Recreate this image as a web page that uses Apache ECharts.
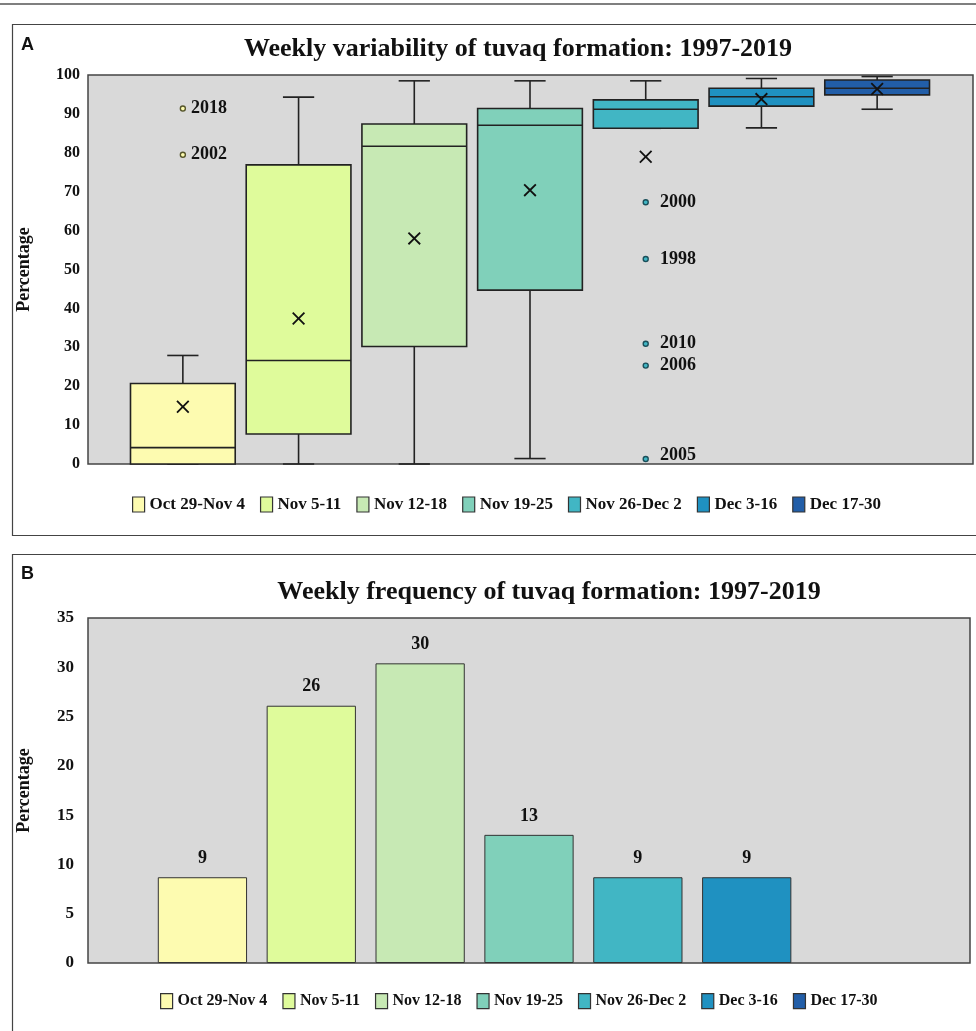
<!DOCTYPE html>
<html><head><meta charset="utf-8">
<script src="https://cdn.jsdelivr.net/npm/echarts@6/dist/echarts.min.js"></script>
<style>html,body{margin:0;padding:0;background:#fff}#c{width:976px;height:1031px}</style>
</head><body><div id="c"></div>
<script>
// ---------- data ----------
const categories = ['Oct 29-Nov 4','Nov 5-11','Nov 12-18','Nov 19-25','Nov 26-Dec 2','Dec 3-16','Dec 17-30'];
const colors = ['#FDFBB0','#DFFB9B','#C7E9B4','#80D0BA','#41B6C4','#1F91C1','#225EA8'];
// Panel A: box statistics (percentage)
const boxMin    = [0,    0,    0,    1.4,  86.3, 86.4, 91.2];
const boxQ1     = [0,    7.7,  30.2, 44.7, 86.3, 92.0, 94.9];
const boxMedian = [4.2,  26.6, 81.7, 87.1, 91.2, 94.4, 96.6];
const boxQ3     = [20.7, 76.9, 87.4, 91.4, 93.6, 96.6, 98.7];
const boxMax    = [27.9, 94.3, 98.5, 98.5, 98.5, 99.1, 99.6];
const boxMean   = [14.7, 37.4, 58.0, 70.4, 79.0, 93.8, 96.4];
const outlierCat  = [0, 0, 4, 4, 4, 4, 4];
const outlierVal  = [91.4, 79.5, 67.3, 52.7, 30.9, 25.3, 1.3];
const outlierYear = ['2018','2002','2000','1998','2010','2006','2005'];
const yTicksA = [0,10,20,30,40,50,60,70,80,90,100];
// Panel B: weekly frequency (percentage)
const freq = [8.7, 26.1, 30.4, 13.0, 8.7, 8.7, 0];
const yTicksB = [0,5,10,15,20,25,30,35];

const titleA = 'Weekly variability of tuvaq formation: 1997-2019';
const titleB = 'Weekly frequency of tuvaq formation: 1997-2019';

// ---------- chart ----------
const SERIF = "'Liberation Serif','Times New Roman',serif";
const TXT = '#111';
const chart = echarts.init(document.getElementById('c'), null, {renderer:'canvas'});

const boxData = categories.map((c,i)=>[i, boxMin[i], boxQ1[i], boxMedian[i], boxQ3[i], boxMax[i]]);
const meanData = boxMean.map((v,i)=>[i,v]);
const outlierData = outlierVal.map((v,k)=>({
  value:[outlierCat[k], v],
  name: outlierYear[k],
  itemStyle:{color: colors[outlierCat[k]], borderColor: outlierCat[k]===0 ? '#55552a' : '#1b4f5a'},
  label:{distance: outlierCat[k]===0 ? 5 : 11, offset: v < 5 ? [0,-4] : [0,0]}
}));
const barData = freq.map((v,i)=>({value:v, itemStyle:{color:colors[i], borderWidth: v ? 1 : 0}}));

const xPath = 'path://M0,1.2L1.2,0L6,4.8L10.8,0L12,1.2L7.2,6L12,10.8L10.8,12L6,7.2L1.2,12L0,10.8L4.8,6Z';

const dummy = categories.map((c,i)=>({
  name:c, type:'scatter', xAxisIndex:0, yAxisIndex:0, data:[],
  itemStyle:{color:colors[i], borderColor:'#333', borderWidth:1, opacity:1}
}));

function legendOf(left, top, fs){
  return {
    left:left, top:top,
    data: categories, icon:'rect', itemWidth:12, itemHeight:15, itemGap:15,
    selectedMode:false,
    itemStyle:{borderColor:'#333', borderWidth:1.2, opacity:1},
    textStyle:{fontFamily:SERIF, fontWeight:'bold', fontSize:fs, color:TXT}
  };
}

const option = {
  animation:false,
  backgroundColor:'#fff',
  title:[
    {text:titleA, left:513, top:31, textAlign:'center',
     textStyle:{fontFamily:SERIF, fontWeight:'bold', fontSize:26, color:TXT}},
    {text:titleB, left:544, top:574, textAlign:'center',
     textStyle:{fontFamily:SERIF, fontWeight:'bold', fontSize:26, color:TXT}}
  ],
  legend:[ legendOf(127, 491, 17), legendOf(155, 988, 16) ],
  graphic:[
    {type:'line', shape:{x1:0,y1:4,x2:976,y2:4}, style:{stroke:'#555', lineWidth:1.5}, silent:true},
    {type:'rect', shape:{x:12.5,y:24.5,width:980,height:511}, style:{fill:'none', stroke:'#444', lineWidth:1.2}, silent:true},
    {type:'rect', shape:{x:12.5,y:554.5,width:980,height:500}, style:{fill:'none', stroke:'#444', lineWidth:1.2}, silent:true},
    {type:'text', left:21, top:36, style:{text:'A', font:"bold 18px 'Liberation Sans',Arial,sans-serif", fill:TXT}},
    {type:'text', left:21, top:565, style:{text:'B', font:"bold 18px 'Liberation Sans',Arial,sans-serif", fill:TXT}}
  ],
  grid:[
    {left:88, top:75, right:3, height:389, show:true, backgroundColor:'#D9D9D9', borderColor:'#444', borderWidth:1.5},
    {left:125, top:75, width:810, height:389},
    {left:88, top:618, right:6, height:345, show:true, backgroundColor:'#D9D9D9', borderColor:'#444', borderWidth:1.5},
    {left:148, top:618, width:762, height:345}
  ],
  xAxis:[
    {gridIndex:0, type:'value', show:false},
    {gridIndex:1, type:'category', data:categories, show:false},
    {gridIndex:2, type:'value', show:false},
    {gridIndex:3, type:'category', data:categories, show:false}
  ],
  yAxis:[
    {gridIndex:0, type:'value', min:yTicksA[0], max:yTicksA[yTicksA.length-1], interval:10,
     name:'Percentage', nameLocation:'middle', nameGap:55, nameRotate:90,
     nameTextStyle:{fontFamily:SERIF, fontWeight:'bold', fontSize:18, color:TXT},
     axisLine:{show:false}, axisTick:{show:false}, splitLine:{show:false},
     axisLabel:{fontFamily:SERIF, fontWeight:'bold', fontSize:16, color:TXT, margin:8}},
    {gridIndex:1, type:'value', min:0, max:100, show:false},
    {gridIndex:2, type:'value', min:yTicksB[0], max:yTicksB[yTicksB.length-1], interval:5,
     name:'Percentage', nameLocation:'middle', nameGap:55, nameRotate:90,
     nameTextStyle:{fontFamily:SERIF, fontWeight:'bold', fontSize:18, color:TXT},
     axisLine:{show:false}, axisTick:{show:false}, splitLine:{show:false},
     axisLabel:{fontFamily:SERIF, fontWeight:'bold', fontSize:17, color:TXT, margin:14}},
    {gridIndex:3, type:'value', min:0, max:35, show:false}
  ],
  series:[
    {
      type:'custom', xAxisIndex:1, yAxisIndex:1, data:boxData,
      encode:{x:0, y:[1,2,3,4,5]},
      renderItem:function(params, api){
        const i = api.value(0);
        const band = api.size([1,0])[0];
        const bw = band*0.905, cw = band*0.27;
        const pMin = api.coord([i, api.value(1)]);
        const pQ1 = api.coord([i, api.value(2)]);
        const pMed = api.coord([i, api.value(3)]);
        const pQ3 = api.coord([i, api.value(4)]);
        const pMax = api.coord([i, api.value(5)]);
        const cx = pMed[0];
        const ls = {stroke:'#222', lineWidth:1.6};
        return {type:'group', children:[
          {type:'line', shape:{x1:cx,y1:pMax[1],x2:cx,y2:pQ3[1]}, style:ls},
          {type:'line', shape:{x1:cx-cw/2,y1:pMax[1],x2:cx+cw/2,y2:pMax[1]}, style:ls},
          {type:'line', shape:{x1:cx,y1:pQ1[1],x2:cx,y2:pMin[1]}, style:ls},
          {type:'line', shape:{x1:cx-cw/2,y1:pMin[1],x2:cx+cw/2,y2:pMin[1]}, style:ls},
          {type:'rect', shape:{x:cx-bw/2,y:pQ3[1],width:bw,height:pQ1[1]-pQ3[1]},
           style:{fill:colors[i], stroke:'#222', lineWidth:1.6}},
          {type:'line', shape:{x1:cx-bw/2,y1:pMed[1],x2:cx+bw/2,y2:pMed[1]}, style:ls}
        ]};
      },
      z:2
    },
    {
      type:'scatter', xAxisIndex:1, yAxisIndex:1, data:meanData,
      symbol:xPath, symbolSize:13, itemStyle:{color:'#111', opacity:1}, z:5
    },
    {
      type:'scatter', xAxisIndex:1, yAxisIndex:1, data:outlierData,
      symbol:'circle', symbolSize:5, itemStyle:{borderWidth:1.4, opacity:1},
      label:{show:true, position:'right', formatter:'{b}',
        fontFamily:SERIF, fontWeight:'bold', fontSize:18, color:TXT},
      z:5
    },
    {
      type:'bar', xAxisIndex:3, yAxisIndex:3, data:barData, barWidth:'82%',
      itemStyle:{borderColor:'#333'},
      label:{show:true, position:'top', distance:10,
        formatter:function(p){return p.value ? String(Math.round(p.value)) : '';},
        fontFamily:SERIF, fontWeight:'bold', fontSize:18, color:TXT}
    }
  ].concat(dummy)
};
chart.setOption(option);
</script>
</body></html>
